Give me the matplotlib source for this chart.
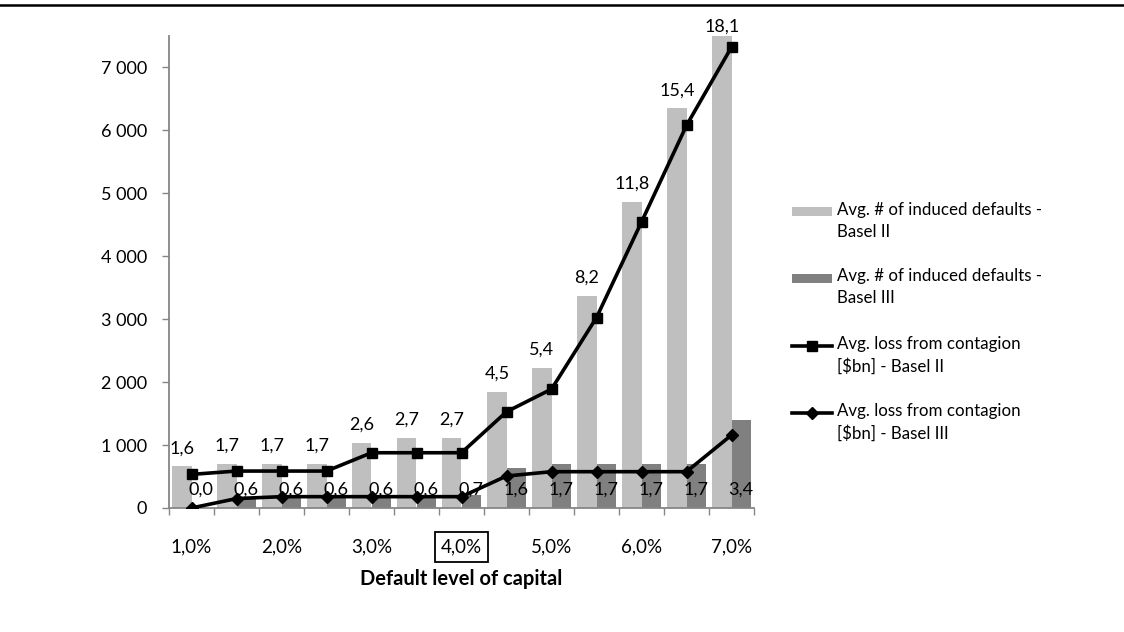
import matplotlib
matplotlib.use('Agg')
import matplotlib.pyplot as plt
import numpy as np
from matplotlib.lines import Line2D
from matplotlib.patches import Rectangle

plt.rcParams['font.family'] = ['Lato', 'DejaVu Sans']

# Data
capital = ['1,0%', '1,5%', '2,0%', '2,5%', '3,0%', '3,5%', '4,0%',
           '4,5%', '5,0%', '5,5%', '6,0%', '6,5%', '7,0%']
defaults_b2 = [660, 700, 700, 700, 1040, 1120, 1120, 1840, 2230, 3370, 4870, 6350, 7500]
defaults_b3 = [0, 170, 170, 170, 170, 170, 200, 635, 700, 700, 700, 700, 1400]
loss_b2_plot = [534, 587, 587, 587, 878, 878, 878, 1529, 1889, 3026, 4545, 6079, 7323]
loss_b3_plot = [0, 150, 180, 180, 180, 180, 180, 508, 577, 577, 577, 577, 1159]
loss_b2_lbl = ['1,6', '1,7', '1,7', '1,7', '2,6', '2,7', '2,7', '4,5', '5,4', '8,2', '11,8', '15,4', '18,1']
loss_b3_lbl = ['0,0', '0,6', '0,6', '0,6', '0,6', '0,6', '0,7', '1,6', '1,7', '1,7', '1,7', '1,7', '3,4']

legend_labels = ['Avg. # of induced defaults -\nBasel II',
                 'Avg. # of induced defaults -\nBasel III',
                 'Avg. loss from contagion\n[$bn] - Basel II',
                 'Avg. loss from contagion\n[$bn] - Basel III']

light = '#BFBFBF'
dark = '#808080'
axis_grey = '#868686'
fs = 13

W, H = 1124, 632
fig = plt.figure(figsize=(W / 100, H / 100), dpi=100)
ax = fig.add_axes([169 / W, 1 - 508 / H, (754 - 169) / W, (508 - 36) / H])

x = np.arange(len(capital))
bw = 0.43
ax.bar(x - bw / 2, defaults_b2, bw, color=light, zorder=2)
ax.bar(x + bw / 2, defaults_b3, bw, color=dark, zorder=2)
ax.plot(x, loss_b2_plot, color='black', lw=2.6, marker='s', markersize=7.5, zorder=4)
ax.plot(x, loss_b3_plot, color='black', lw=2.6, marker='D', markersize=6.5, zorder=4)

# data labels (Excel keeps the top one inside the plot area)
for xi, v, t in zip(x, defaults_b2, loss_b2_lbl):
    off = 9.5 if v < 7300 else 3.5
    ax.annotate(t, (xi - bw / 2, v), xytext=(0, off), textcoords='offset points',
                ha='center', va='baseline', fontsize=fs, zorder=5)
for xi, t in zip(x, loss_b3_lbl):
    ax.annotate(t, (xi + bw / 2, 0), xytext=(0, 9.5), textcoords='offset points',
                ha='center', va='baseline', fontsize=fs, zorder=5)

ax.set_xlim(-0.5, len(capital) - 0.5)
ax.set_ylim(0, 7500)
ax.set_yticks(np.arange(0, 7001, 1000))
ax.set_yticklabels([f'{v:,}'.replace(',', ' ') for v in range(0, 7001, 1000)], fontsize=fs)

ax.set_xticks(x[::2])
ax.set_xticklabels(capital[::2], fontsize=13.5)
ax.set_xticks(np.arange(-0.5, len(capital)), minor=True)
ax.tick_params(axis='x', which='major', length=0, pad=22)
ax.tick_params(axis='x', which='minor', length=5, color=axis_grey, width=1)
ax.tick_params(axis='y', length=5, color=axis_grey, width=1, pad=11)

for s in ['top', 'right']:
    ax.spines[s].set_visible(False)
for s in ['left', 'bottom']:
    ax.spines[s].set_color(axis_grey)
    ax.spines[s].set_linewidth(1.3)

for lbl in ax.get_xticklabels():
    if lbl.get_text() == '4,0%':
        lbl.set_bbox(dict(facecolor='white', edgecolor='black', linewidth=1.3, pad=4.5))

ax.set_xlabel('Default level of capital', fontsize=14.5, fontweight='bold', va='center')
ax.xaxis.set_label_coords(0.5, (508 - 579) / 472)

# legend drawn by hand
def fx(px):
    return px / W

def fy(py):
    return 1 - py / H

entry_y = [212, 278, 346, 413]
for i, (ey, lab) in enumerate(zip(entry_y, legend_labels)):
    if i < 2:
        fig.add_artist(Rectangle((fx(792), fy(ey + 4.5)), fx(40), 9 / H,
                                 facecolor=[light, dark][i], edgecolor='none',
                                 transform=fig.transFigure))
    else:
        fig.add_artist(Line2D([fx(792), fx(812), fx(832)], [fy(ey)] * 3, color='black', lw=2.6,
                              marker=['s', 'D'][i - 2], markersize=[7.5, 6.5][i - 2],
                              markevery=[1], transform=fig.transFigure))
    fig.text(fx(837), fy(ey - 10), lab, fontsize=12.2, va='top', ha='left',
             linespacing=1.45, transform=fig.transFigure)

# top rule across the page
fig.add_artist(Line2D([0, 1], [fy(4.5), fy(4.5)], color='black', lw=1.8,
                      transform=fig.transFigure))

fig.savefig('out.png', dpi=100, facecolor='white')
